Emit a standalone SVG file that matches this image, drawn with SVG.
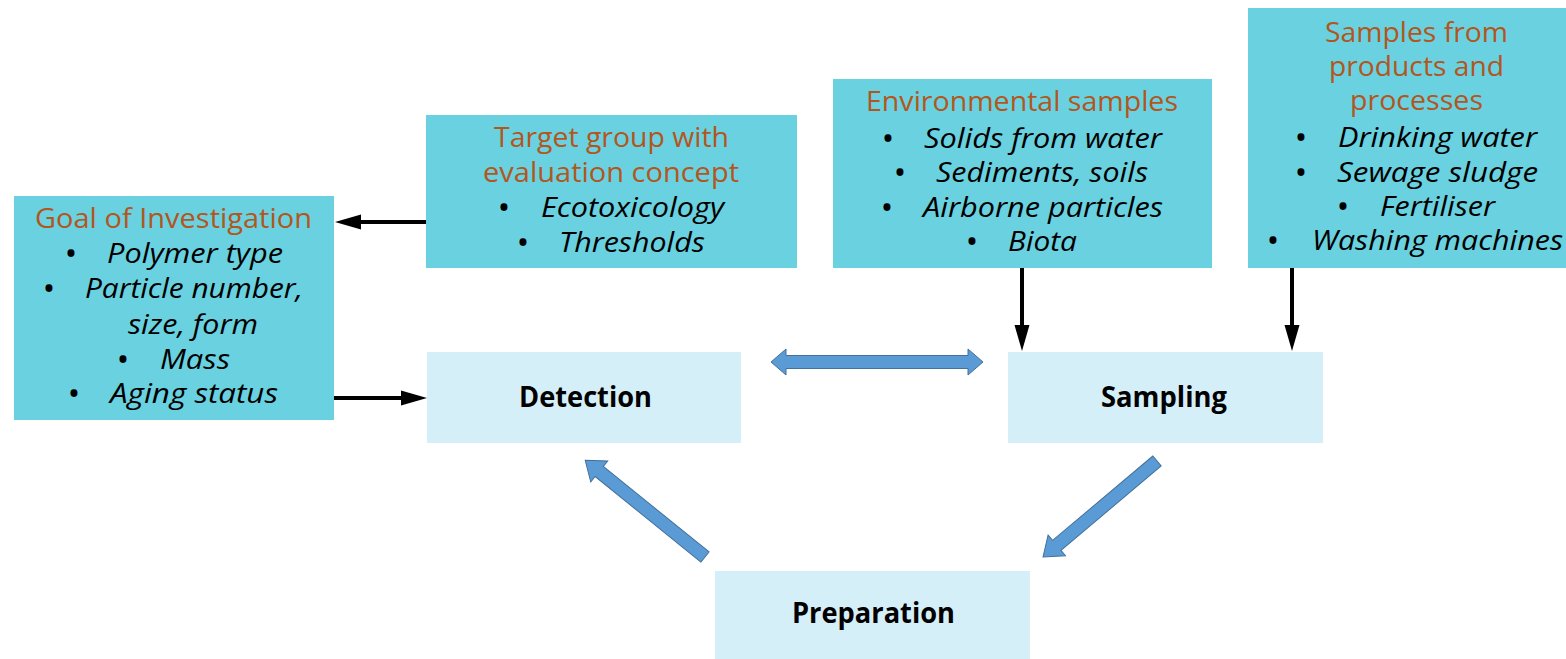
<svg xmlns="http://www.w3.org/2000/svg" width="1566" height="659" viewBox="0 0 1566 659">
<style>
.dark{fill:#69D1DF}
.light{fill:#D5EFF8}
.t{font-family:"Open Sans","Liberation Sans",sans-serif;font-size:27px}
.title{fill:#B3561E}
.item{fill:#000;font-style:italic}
.bul{fill:#000;text-anchor:middle;font-size:25px;font-weight:bold}
.lbl{font-family:"Open Sans","Liberation Sans",sans-serif;font-size:28px;font-weight:bold;fill:#000}
.conn{stroke:#000;stroke-width:4;fill:none}
.block{fill:#5B9BD5;stroke:#41719C;stroke-width:1}
</style>
<defs>
<marker id="ah" viewBox="0 0 26 16" markerWidth="26" markerHeight="16" markerUnits="userSpaceOnUse" refX="16" refY="8" orient="auto">
<path d="M0,0.5 L26,8 L0,15.5 z" fill="#000"/>
</marker>
</defs>
<rect width="1566" height="659" fill="#fff"/>

<g id="goal">
<rect class="dark" x="14" y="196" width="320" height="224"/>
<text class="t title" x="35" y="228" textLength="277" lengthAdjust="spacingAndGlyphs">Goal of Investigation</text>
<text class="t bul" x="71" y="262">•</text>
<text class="t item" x="107" y="263" textLength="176" lengthAdjust="spacingAndGlyphs">Polymer type</text>
<text class="t bul" x="49" y="297">•</text>
<text class="t item" x="85" y="298" textLength="218" lengthAdjust="spacingAndGlyphs">Particle number,</text>
<text class="t item" x="128" y="334" textLength="130" lengthAdjust="spacingAndGlyphs">size, form</text>
<text class="t bul" x="123" y="368">•</text>
<text class="t item" x="160" y="369" textLength="70" lengthAdjust="spacingAndGlyphs">Mass</text>
<text class="t bul" x="74" y="402">•</text>
<text class="t item" x="110" y="403" textLength="168" lengthAdjust="spacingAndGlyphs">Aging status</text>
</g>

<g id="target">
<rect class="dark" x="426" y="115" width="371" height="153"/>
<text class="t title" x="494" y="147" textLength="235" lengthAdjust="spacingAndGlyphs">Target group with</text>
<text class="t title" x="483" y="182" textLength="256" lengthAdjust="spacingAndGlyphs">evaluation concept</text>
<text class="t bul" x="504" y="216">•</text>
<text class="t item" x="541" y="217" textLength="183" lengthAdjust="spacingAndGlyphs">Ecotoxicology</text>
<text class="t bul" x="523" y="251">•</text>
<text class="t item" x="559" y="252" textLength="146" lengthAdjust="spacingAndGlyphs">Thresholds</text>
</g>

<g id="environmental">
<rect class="dark" x="833" y="79" width="379" height="189"/>
<text class="t title" x="866" y="111" textLength="312" lengthAdjust="spacingAndGlyphs">Environmental samples</text>
<text class="t bul" x="888" y="147">•</text>
<text class="t item" x="924" y="148" textLength="238" lengthAdjust="spacingAndGlyphs">Solids from water</text>
<text class="t bul" x="900" y="181">•</text>
<text class="t item" x="936" y="182" textLength="212" lengthAdjust="spacingAndGlyphs">Sediments, soils</text>
<text class="t bul" x="887" y="216">•</text>
<text class="t item" x="923" y="217" textLength="240" lengthAdjust="spacingAndGlyphs">Airborne particles</text>
<text class="t bul" x="972" y="250">•</text>
<text class="t item" x="1008" y="251" textLength="69" lengthAdjust="spacingAndGlyphs">Biota</text>
</g>

<g id="products">
<rect class="dark" x="1248" y="8" width="318" height="260"/>
<text class="t title" x="1325" y="42" textLength="183" lengthAdjust="spacingAndGlyphs">Samples from</text>
<text class="t title" x="1329" y="76" textLength="175" lengthAdjust="spacingAndGlyphs">products and</text>
<text class="t title" x="1350" y="110" textLength="133" lengthAdjust="spacingAndGlyphs">processes</text>
<text class="t bul" x="1301" y="146">•</text>
<text class="t item" x="1338" y="147" textLength="199" lengthAdjust="spacingAndGlyphs">Drinking water</text>
<text class="t bul" x="1301" y="181">•</text>
<text class="t item" x="1337" y="182" textLength="201" lengthAdjust="spacingAndGlyphs">Sewage sludge</text>
<text class="t bul" x="1343" y="215">•</text>
<text class="t item" x="1380" y="216" textLength="115" lengthAdjust="spacingAndGlyphs">Fertiliser</text>
<text class="t bul" x="1273" y="249">•</text>
<text class="t item" x="1312" y="250" textLength="251" lengthAdjust="spacingAndGlyphs">Washing machines</text>
</g>

<g id="detection">
<rect class="light" x="427" y="352" width="314" height="91"/>
<text class="lbl" x="519" y="407" textLength="133" lengthAdjust="spacingAndGlyphs">Detection</text>
</g>

<g id="sampling">
<rect class="light" x="1008" y="352" width="315" height="91"/>
<text class="lbl" x="1101" y="407" textLength="126" lengthAdjust="spacingAndGlyphs">Sampling</text>
</g>

<g id="preparation">
<rect class="light" x="715" y="571" width="315" height="88"/>
<text class="lbl" x="792" y="623" textLength="163" lengthAdjust="spacingAndGlyphs">Preparation</text>
</g>

<g id="connectors">
<line class="conn" x1="426" y1="222" x2="345" y2="222" marker-end="url(#ah)"/>
<line class="conn" x1="334" y1="398" x2="417" y2="398" marker-end="url(#ah)"/>
<line class="conn" x1="1022" y1="268" x2="1022" y2="341" marker-end="url(#ah)"/>
<line class="conn" x1="1292" y1="268" x2="1292" y2="341" marker-end="url(#ah)"/>
<polygon class="block" points="771,362 786,349 786,355.5 968,355.5 968,349 983,362 968,375 968,368.5 786,368.5 786,375"/>
<polygon class="block" transform="translate(705,557) rotate(218.95)" points="0,-6.5 136,-6.5 136,-13.5 154,0 136,13.5 136,6.5 0,6.5"/>
<polygon class="block" transform="translate(1157,461) rotate(139.9)" points="0,-6.5 131,-6.5 131,-13.5 149,0 131,13.5 131,6.5 0,6.5"/>
</g>
</svg>
